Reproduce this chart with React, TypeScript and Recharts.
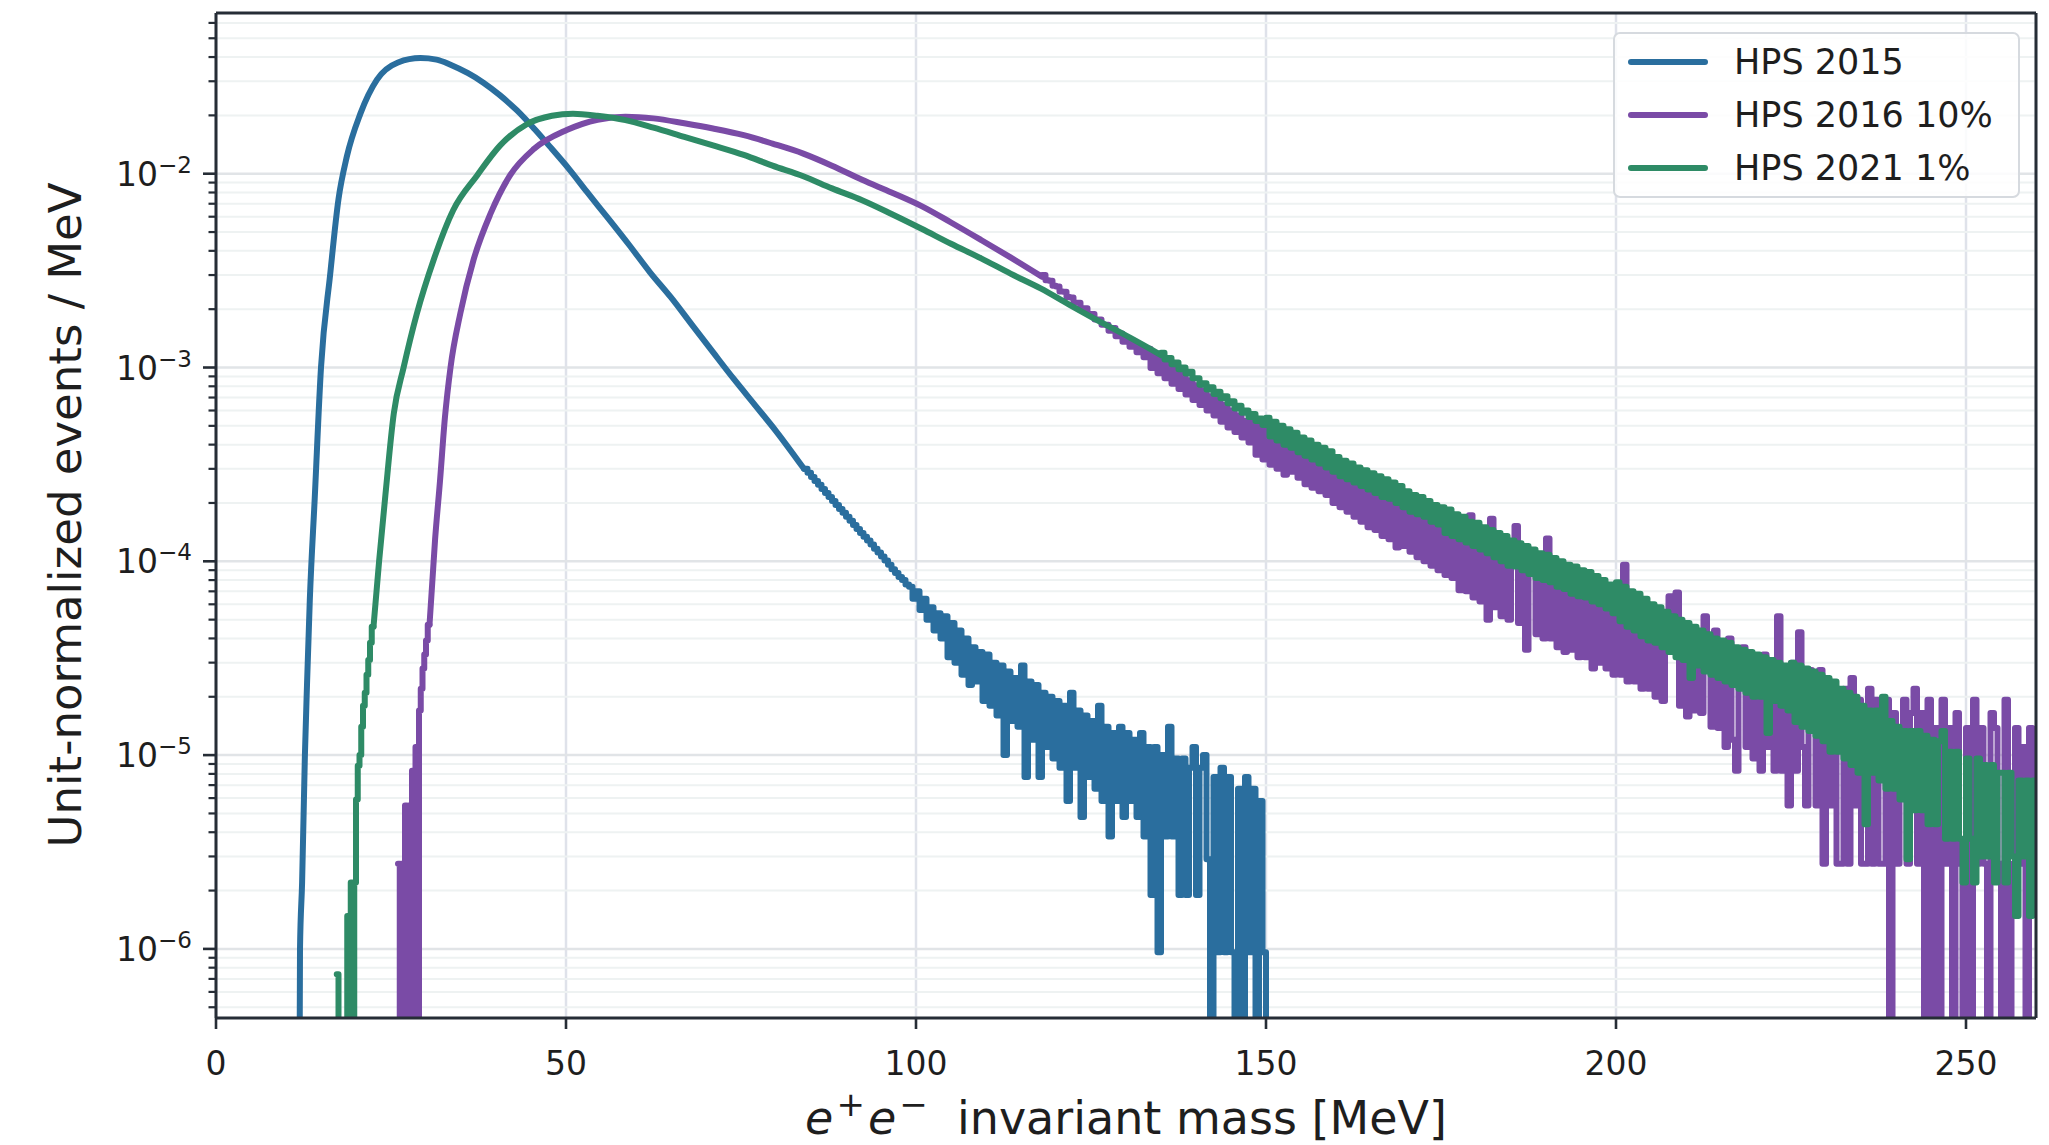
import React from "react";
import { LineChart, Line, XAxis, YAxis, CartesianGrid, ReferenceLine } from "recharts";

const W = 2049;
const H = 1145;
const FONT = "DejaVu Sans";
const AXIS = "#262d36";
const TEXT = "#1e1e1e";

const SERIES_NAMES = ["HPS 2015", "HPS 2016 10%", "HPS 2021 1%"];
const COLORS = ["#2a6e9e", "#7a4ba6", "#2e8b66"];

const X_TICKS = [0, 50, 100, 150, 200, 250];
const X_DOMAIN = [0, 260];
const Y_DOMAIN = [4.4e-7, 0.0675];
const Y_MAJOR = [1e-6, 1e-5, 1e-4, 1e-3, 1e-2];
const Y_EXP = ["−6", "−5", "−4", "−3", "−2"];
const MINOR_MULT = [2, 3, 4, 5, 6, 7, 8, 9];
const DECADES = [1e-7, 1e-6, 1e-5, 1e-4, 1e-3, 1e-2];

// empty bins are pushed below the axis
const FLOOR = 1e-8;

// ---- HPS 2015 ----
const blueX = [11.9, 12.0, 12.3, 12.7, 13.0, 13.4, 14.1, 15.0, 16.3, 17.5, 18.7, 20.6, 23.0, 26.0, 29.2, 31.5, 33.5, 36.0, 38.2, 40.5, 43.0, 45.5, 48.0, 50.5, 53.0, 56.0, 59.0, 62.0, 65.0, 68.0, 71.0, 74.0, 77.0, 80.0, 84.0];
const blueY = [1e-7, 1.0e-6, 2.2e-6, 1.0e-5, 2.3e-5, 6.3e-5, 2.1e-4, 1.0e-3, 3.0e-3, 7.4e-3, 1.23e-2, 2.03e-2, 3.06e-2, 3.75e-2, 3.95e-2, 3.88e-2, 3.65e-2, 3.3e-2, 2.95e-2, 2.55e-2, 2.12e-2, 1.7e-2, 1.34e-2, 1.05e-2, 8.05e-3, 5.9e-3, 4.3e-3, 3.1e-3, 2.3e-3, 1.66e-3, 1.2e-3, 8.7e-4, 6.4e-4, 4.7e-4, 3.0e-4];
// noisy tail, 0.5 MeV bins from 84 MeV, in units of 1e-6 / MeV
const blueTail = [
  300, 286, 272, 260, 248, 236, 225, 215, 205, 195,
  186, 178, 170, 162, 154, 147, 140, 134, 128, 122,
  116, 111, 106, 101, 96, 91, 87, 83, 80, 76,
  74, 64, 70, 56, 64, 50, 58, 44, 54, 40,
  52, 32, 48, 30, 44, 26, 40, 23, 36, 24,
  34, 19, 33, 18, 30, 16, 29, 10, 27, 15,
  25, 14, 29, 7.7, 24, 12, 23, 7.7, 21, 11,
  20, 9.6, 19, 8.6, 18, 5.8, 21, 8.6, 17, 4.8,
  16, 7.7, 15, 6.7, 18, 5.8, 14, 3.8, 13, 5.8,
  14, 4.8, 13, 5.8, 12, 4.8, 13, 3.8, 11, 1.9,
  11, 0.96, 10, 3.8, 14, 3.8, 9.6, 1.9, 9.6, 1.9,
  8.6, 11, 1.9, 8.6, 10, 2.9, 0, 7.7, 0.96, 8.6,
  0.96, 7.7, 0.96, 0, 6.7, 0, 7.7, 0.96, 6.7, 0, 5.8, 0.96,
  0,
];

// ---- HPS 2016 10% ----
// rising edge, 0.25 MeV bins from 26 MeV, units of 1e-6
const purpleRise = [2.75, 0, 2.75, 0, 5.5, 0, 5.5, 0, 8.3, 0, 11, 0, 17, 22, 28, 33, 39, 47];
const purpleX = [30.5, 31.3, 32.0, 32.7, 33.5, 34.9, 36.8, 39.2, 42.0, 45.4, 50.1, 54.5, 58.5, 62.5, 66.9, 71.0, 75.4, 79.5, 83.9, 88.0, 92.3, 96.5, 100.8, 105.0, 109.3, 113.5, 118.0];
const purpleY = [4.7e-5, 1.3e-4, 2.6e-4, 5.5e-4, 1.0e-3, 1.9e-3, 3.6e-3, 6.2e-3, 9.8e-3, 1.34e-2, 1.68e-2, 1.9e-2, 1.97e-2, 1.93e-2, 1.82e-2, 1.71e-2, 1.58e-2, 1.43e-2, 1.27e-2, 1.1e-2, 9.3e-3, 8.0e-3, 6.8e-3, 5.6e-3, 4.55e-3, 3.7e-3, 2.94e-3];
// tail, 0.5 MeV bins from 118 MeV, units of 1e-6
const purpleTail = [
  3000, 2820, 2800, 2640, 2620, 2470, 2460, 2310, 2300, 2160,
  2160, 2020, 2020, 1890, 1890, 1770, 1770, 1660, 1660, 1550,
  1600, 1450, 1500, 1360, 1410, 1280, 1330, 1200, 1250, 1130,
  1250, 995, 1180, 935, 1105, 880, 1040, 825, 975, 775,
  915, 725, 860, 680, 810, 640, 760, 600, 710, 565,
  680, 525, 640, 490, 600, 465, 565, 435, 530, 410,
  535, 355, 505, 335, 475, 315, 445, 300, 415, 280,
  400, 290, 390, 270, 370, 250, 350, 240, 330, 230,
  320, 220, 300, 200, 290, 190, 280, 180, 265, 170,
  250, 160, 240, 150, 235, 145, 225, 135, 215, 130,
  205, 118, 195, 120, 185, 112, 180, 105, 170, 100,
  165, 95, 160, 90, 155, 85, 150, 82, 140, 71,
  135, 70, 173, 65, 130, 62, 125, 50, 166, 58,
  115, 52, 110, 50, 105, 152, 48, 100, 35, 95,
  90, 42, 88, 40, 131, 40, 80, 36, 78, 34,
  72, 35, 70, 32, 66, 32, 64, 28, 62, 30,
  58, 28, 56, 26, 54, 26, 96, 24, 52, 24,
  50, 22, 48, 22, 46, 20, 48, 19, 44, 66,
  42, 69, 18, 40, 15.8, 42, 17, 40, 16.5, 52,
  38, 14, 44, 13.8, 36, 11, 40, 12, 8.3, 34,
  36, 11, 33, 9.6, 30, 8.3, 33, 11, 30, 8.3,
  52, 8.3, 27.5, 5.5, 30, 8.3, 43, 11, 5.5, 27.5,
  25, 5.5, 27.5, 2.75, 22, 5.5, 19.3, 2.75, 2.75, 22,
  2.75, 25, 5.5, 19.3, 2.75, 2.75, 22, 2.75, 19.3, 2.75,
  2.75, 19.3, 0, 16.5, 2.75, 13.8, 19.3, 2.75, 16.5, 22,
  2.75, 16.5, 0, 19.3, 0, 13.8, 0, 19.3, 2.75, 13.8,
  0, 16.5, 2.75, 0, 13.8, 0, 19.3, 2.75, 13.8, 2.75,
  0, 16.5, 13.8, 2.75, 0, 19.3, 0, 2.75, 13.8, 2.75,
  11, 0, 13.8, 2.75,
];

// ---- HPS 2021 1% ----
// rising edge, 0.25 MeV bins from 17.25 MeV, units of 1e-6
const greenRise = [0.74, 0, 0, 0, 0, 0, 1.48, 0, 2.2, 0, 2.2, 5.9, 8.8, 10, 14, 18, 21, 26, 31, 38, 46];
const greenX = [22.5, 23.3, 24.2, 25.4, 26.8, 28.7, 31.1, 33.9, 37.3, 40.6, 44.4, 48.0, 51.0, 54.5, 58.5, 62.5, 66.9, 71.0, 75.4, 79.5, 83.9, 88.0, 92.3, 96.5, 100.8, 105.0, 109.3, 113.5, 117.8, 122.0, 126.2, 130.5, 135.0];
const greenY = [4.6e-5, 1.0e-4, 2.2e-4, 5.8e-4, 1.0e-3, 1.9e-3, 3.6e-3, 6.5e-3, 9.8e-3, 1.4e-2, 1.8e-2, 1.99e-2, 2.04e-2, 1.99e-2, 1.89e-2, 1.73e-2, 1.55e-2, 1.4e-2, 1.25e-2, 1.1e-2, 9.7e-3, 8.4e-3, 7.3e-3, 6.2e-3, 5.2e-3, 4.35e-3, 3.66e-3, 3.05e-3, 2.56e-3, 2.1e-3, 1.73e-3, 1.43e-3, 1.16e-3];
// tail, 0.5 MeV bins from 135 MeV, units of 1e-6
const greenTail = [
  1190, 1100, 1120, 1040, 1060, 980, 1000, 930, 950, 880,
  880, 815, 830, 770, 790, 730, 750, 695, 710, 655,
  670, 615, 635, 585, 600, 555, 575, 530, 545, 505,
  550, 440, 525, 420, 500, 400, 480, 385, 460, 365,
  435, 350, 420, 335, 400, 320, 385, 305, 370, 290,
  345, 275, 330, 265, 320, 255, 305, 245, 295, 235,
  285, 225, 275, 215, 265, 210, 255, 200, 245, 190,
  230, 180, 220, 175, 215, 170, 205, 160, 195, 155,
  190, 140, 185, 135, 175, 130, 170, 125, 160, 120,
  158, 115, 150, 110, 145, 105, 140, 100, 135, 95,
  128, 94, 124, 90, 120, 86, 115, 82, 110, 80,
  108, 78, 104, 74, 100, 72, 96, 68, 94, 66,
  90, 65, 88, 62, 84, 60, 80, 57, 76, 54,
  78, 49, 74, 46, 70, 44, 68, 41, 64, 39,
  60, 38, 58, 36, 55, 34, 52, 32, 50, 31,
  48, 25, 46, 29, 44, 27, 42, 26, 40, 25,
  39, 24, 38, 23, 36, 22, 35, 21, 34, 20,
  33, 20, 32, 13, 31, 19, 30, 18, 29, 17,
  30, 14.8, 29, 14, 28, 13.3, 27, 12.6, 26, 11.8,
  25, 10.4, 24, 10.4, 22, 9.6, 21, 8.9, 20, 8.1,
  18, 4.4, 17, 8.1, 17, 7.4, 20, 6.7, 15, 6.7,
  14, 5.9, 13.3, 2.9, 13.3, 5.2, 13.3, 5.2, 12.6, 4.4,
  12, 4.4, 11.8, 13.3, 3.7, 10.4, 3.7, 10.4, 3.7, 2.2,
  9.6, 3.7, 2.2, 9.6, 3.0, 8.9, 3.0, 8.9, 2.2, 8.1,
  8.1, 2.2, 8.1, 3.0, 1.48, 7.4, 3.0, 7.4, 1.48, 7.4,
];

type Pt = { x: number; y: number };

const smooth = (xs: number[], ys: number[]): Pt[] => xs.map((x, i) => ({ x, y: ys[i] }));

// histogram bins -> step points (values given in 1e-6 units)
const steps = (start: number, width: number, vals: number[]): Pt[] => {
  const pts = vals.map((v, i) => ({ x: start + i * width, y: v > 0 ? v * 1e-6 : FLOOR }));
  pts.push({ x: start + vals.length * width, y: pts[pts.length - 1].y });
  return pts;
};

const minorTicks = DECADES.flatMap((d) => MINOR_MULT.map((m) => m * d)).filter(
  (v) => v > Y_DOMAIN[0] && v < Y_DOMAIN[1]
);
const yTicks = [...Y_MAJOR, ...minorTicks].sort((a, b) => a - b);

const lines = [
  { key: "b1", data: smooth(blueX, blueY), type: "monotone", color: COLORS[0] },
  { key: "b2", data: steps(84, 0.5, blueTail), type: "stepAfter", color: COLORS[0] },
  { key: "p0", data: steps(26, 0.25, purpleRise), type: "stepAfter", color: COLORS[1] },
  { key: "p1", data: smooth(purpleX, purpleY), type: "monotone", color: COLORS[1] },
  { key: "p2", data: steps(118, 0.5, purpleTail), type: "stepAfter", color: COLORS[1] },
  { key: "g0", data: steps(17.25, 0.25, greenRise), type: "stepAfter", color: COLORS[2] },
  { key: "g1", data: smooth(greenX, greenY), type: "monotone", color: COLORS[2] },
  { key: "g2", data: steps(135, 0.5, greenTail), type: "stepAfter", color: COLORS[2] },
];

const YTick = (props: any) => {
  const { x, y, payload } = props;
  const v = payload.value;
  const i = Y_MAJOR.findIndex((m) => Math.abs(m - v) / m < 1e-6);
  if (i < 0) {
    return <line x1={x} x2={x - 7.5} y1={y} y2={y} stroke={AXIS} strokeWidth={2.2} />;
  }
  return (
    <g>
      <line x1={x} x2={x - 13} y1={y} y2={y} stroke={AXIS} strokeWidth={2.6} />
      <text x={x - 24} y={y + 12} textAnchor="end" fill={TEXT} fontSize={33} fontFamily={FONT}>
        10
        <tspan dy={-13} fontSize={23}>
          {Y_EXP[i]}
        </tspan>
      </text>
    </g>
  );
};

const XTick = (props: any) => {
  const { x, y, payload } = props;
  return (
    <text x={x} y={y + 46} textAnchor="middle" fill={TEXT} fontSize={33} fontFamily={FONT}>
      {payload.value}
    </text>
  );
};

export default function App() {
  return (
    <div
      style={{
        position: "absolute",
        left: 0,
        top: 0,
        width: W,
        height: H,
        background: "#ffffff",
        fontFamily: FONT,
      }}
    >
      <LineChart width={W} height={H} margin={{ top: 13, right: 13, bottom: 0, left: 0 }}>
        <CartesianGrid horizontal={false} stroke="#dfe2ea" strokeWidth={2.5} />
        {minorTicks.map((v) => (
          <ReferenceLine key={"m" + v} y={v} stroke="#eef2f2" strokeWidth={2} />
        ))}
        {Y_MAJOR.map((v) => (
          <ReferenceLine key={"M" + v} y={v} stroke="#e1e4e7" strokeWidth={2.5} />
        ))}
        <XAxis
          type="number"
          dataKey="x"
          domain={X_DOMAIN}
          ticks={X_TICKS}
          interval={0}
          allowDataOverflow
          height={127}
          tickSize={11}
          tickMargin={0}
          tickLine={{ stroke: AXIS, strokeWidth: 2.6 }}
          axisLine={{ stroke: AXIS, strokeWidth: 3 }}
          tick={<XTick />}
        />
        <YAxis
          type="number"
          scale="log"
          domain={Y_DOMAIN}
          ticks={yTicks}
          interval={0}
          allowDataOverflow
          width={216}
          tickSize={0}
          tickMargin={0}
          tickLine={false}
          axisLine={{ stroke: AXIS, strokeWidth: 3 }}
          tick={<YTick />}
        />
        {lines.map((l) => (
          <Line
            key={l.key}
            data={l.data}
            dataKey="y"
            type={l.type as any}
            stroke={l.color}
            strokeWidth={6}
            strokeLinejoin="round"
            strokeLinecap="round"
            dot={false}
            activeDot={false}
            isAnimationActive={false}
          />
        ))}
        <ReferenceLine y={Y_DOMAIN[1]} stroke={AXIS} strokeWidth={3} />
        <ReferenceLine x={X_DOMAIN[1]} stroke={AXIS} strokeWidth={3} />
      </LineChart>

      <svg
        width={W}
        height={H}
        style={{ position: "absolute", left: 0, top: 0, pointerEvents: "none" }}
      >
        <text
          transform="translate(65,515) rotate(-90)"
          textAnchor="middle"
          dominantBaseline="central"
          fontSize={45}
          fontFamily={FONT}
          fill={TEXT}
        >
          Unit-normalized events / MeV
        </text>
        <text x={1126} y={1134} textAnchor="middle" fontSize={46} fontFamily={FONT} fill={TEXT}>
          <tspan fontStyle="italic">e</tspan>
          <tspan dx={3} dy={-18} fontSize={34}>+</tspan>
          <tspan dx={3} dy={18} fontStyle="italic">e</tspan>
          <tspan dx={3} dy={-18} fontSize={34}>−</tspan>
          <tspan dy={18}>{"\u00A0\u00A0invariant mass [MeV]"}</tspan>
        </text>
      </svg>

      <div
        style={{
          position: "absolute",
          left: 1613,
          top: 32,
          width: 407,
          height: 166,
          boxSizing: "border-box",
          border: "2px solid #d6dadf",
          borderRadius: 7,
          background: "rgba(255,255,255,0.85)",
          paddingTop: 1,
        }}
      >
        {SERIES_NAMES.map((name, i) => (
          <div key={name} style={{ display: "flex", alignItems: "center", height: 53 }}>
            <div
              style={{
                marginLeft: 13,
                width: 80,
                height: 6,
                borderRadius: 3,
                background: COLORS[i],
              }}
            />
            <span style={{ marginLeft: 26, fontSize: 35, color: TEXT, whiteSpace: "nowrap" }}>
              {name}
            </span>
          </div>
        ))}
      </div>
    </div>
  );
}
